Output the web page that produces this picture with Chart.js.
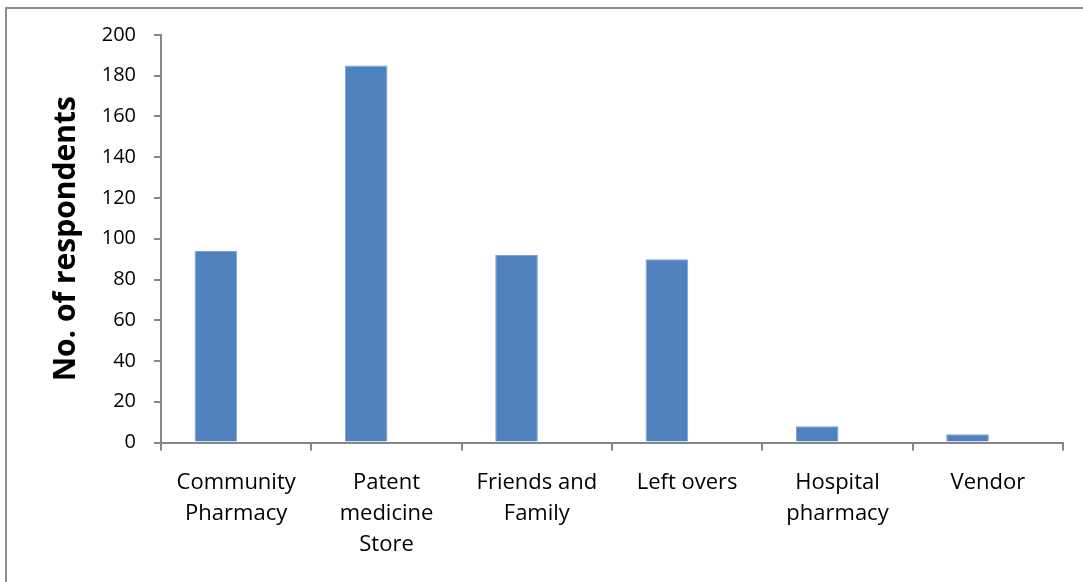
<!DOCTYPE html>
<html>
<head>
<meta charset="utf-8">
<script src="https://cdn.jsdelivr.net/npm/chart.js@4/dist/chart.umd.min.js"></script>
<style>
  html, body { margin: 0; padding: 0; background: #ffffff; }
  #wrap { position: relative; width: 1083px; height: 582px; }
</style>
</head>
<body>
<div id="wrap"><canvas id="chart" width="1083" height="582"></canvas></div>
<script>
// Sources of medicines and how many respondents named each one
const categories = [
  ['Community', 'Pharmacy'],
  ['Patent', 'medicine', 'Store'],
  ['Friends and', 'Family'],
  'Left overs',
  ['Hospital', 'pharmacy'],
  'Vendor'
];
const respondents = [94, 185, 92, 90, 8, 4];
// second, empty series: keeps each bar in the left half of its category slot
const spareSeries = [null, null, null, null, null, null];
const yTicks = { min: 0, max: 200, step: 20 };

const axisGrey = '#868686';

// thin grey frame round the whole chart
const framePlugin = {
  id: 'frame',
  beforeDraw(chart) {
    const ctx = chart.ctx;
    ctx.save();
    ctx.fillStyle = '#ffffff';
    ctx.fillRect(0, 0, chart.width, chart.height);
    ctx.strokeStyle = '#8c8c8c';
    ctx.lineWidth = 2;
    ctx.strokeRect(6, 8, chart.width + 20, chart.height + 20);
    ctx.restore();
  }
};

new Chart(document.getElementById('chart'), {
  type: 'bar',
  data: {
    labels: categories,
    datasets: [
      {
        label: 'No. of respondents',
        data: respondents,
        backgroundColor: '#4F81BD',
        borderColor: '#7EA1D0',
        borderWidth: 1,
        borderSkipped: 'bottom',
        categoryPercentage: 0.54,
        barPercentage: 1.05
      },
      {
        label: 'spare',
        data: spareSeries,
        backgroundColor: '#4F81BD',
        categoryPercentage: 0.54,
        barPercentage: 1.05
      }
    ]
  },
  options: {
    responsive: false,
    animation: false,
    layout: { padding: { left: 0, right: 20, top: 35, bottom: 0 } },
    plugins: {
      legend: { display: false },
      tooltip: { enabled: false }
    },
    scales: {
      x: {
        grid: {
          display: true,
          drawOnChartArea: false,
          drawTicks: true,
          tickLength: 8,
          color: axisGrey,
          lineWidth: 2
        },
        border: { display: true, color: axisGrey, width: 2 },
        ticks: {
          color: '#000000',
          font: { family: 'Open Sans', size: 22, lineHeight: 1.41 },
          padding: 17,
          maxRotation: 0,
          autoSkip: false
        },
        afterFit(scale) { scale.height = 139.5; }
      },
      y: {
        min: yTicks.min,
        max: yTicks.max,
        grid: {
          display: true,
          drawOnChartArea: false,
          drawTicks: true,
          tickLength: 7,
          color: axisGrey,
          lineWidth: 2
        },
        border: { display: true, color: axisGrey, width: 2 },
        ticks: {
          stepSize: yTicks.step,
          color: '#000000',
          font: { family: 'Open Sans', size: 20 },
          padding: 18
        },
        title: {
          display: true,
          text: 'No. of respondents',
          color: '#000000',
          font: { family: 'Open Sans', size: 30, weight: 'bold' },
          padding: { top: 48, bottom: 0 }
        },
        afterFit(scale) { scale.width = 161; }
      }
    }
  },
  plugins: [framePlugin]
});
</script>
</body>
</html>
